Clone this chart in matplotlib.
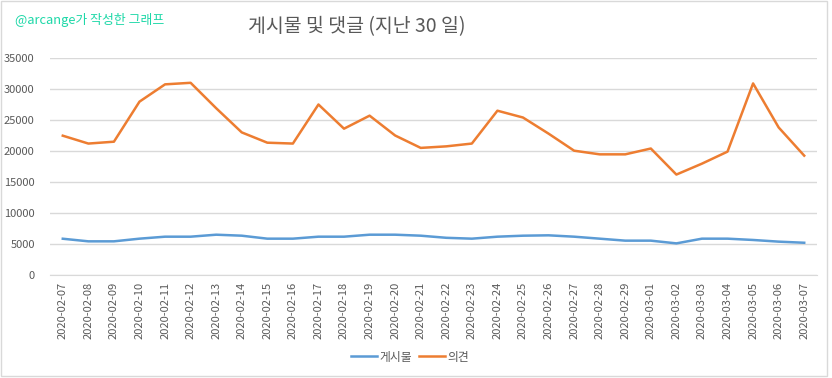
import matplotlib.pyplot as plt
import matplotlib.patches as mpatches

plt.rcParams['font.family'] = ['Noto Sans CJK KR', 'DejaVu Sans']

dates = ['2020-02-07', '2020-02-08', '2020-02-09', '2020-02-10', '2020-02-11',
         '2020-02-12', '2020-02-13', '2020-02-14', '2020-02-15', '2020-02-16',
         '2020-02-17', '2020-02-18', '2020-02-19', '2020-02-20', '2020-02-21',
         '2020-02-22', '2020-02-23', '2020-02-24', '2020-02-25', '2020-02-26',
         '2020-02-27', '2020-02-28', '2020-02-29', '2020-03-01', '2020-03-02',
         '2020-03-03', '2020-03-04', '2020-03-05', '2020-03-06', '2020-03-07']
posts = [5850, 5430, 5430, 5860, 6180, 6180, 6500, 6340, 5860, 5860,
         6180, 6180, 6500, 6500, 6340, 6000, 5860, 6180, 6340, 6400,
         6180, 5860, 5540, 5540, 5100, 5860, 5860, 5650, 5380, 5200]
comments = [22470, 21200, 21500, 27960, 30750, 31000, 26900, 23000, 21340, 21200,
            27500, 23600, 25700, 22500, 20500, 20750, 21200, 26500, 25400, 22800,
            20050, 19460, 19460, 20400, 16200, 17960, 19900, 30900, 23800, 19250]
yticks = [0, 5000, 10000, 15000, 20000, 25000, 30000, 35000]

W, H = 832, 378
fig = plt.figure(figsize=(W / 100, H / 100), dpi=100)

# chart border
fig.patches.append(mpatches.Rectangle((0.5 / W, 1 - 375.5 / H), 826.5 / W, 375 / H,
                                      transform=fig.transFigure, fill=False,
                                      edgecolor='#d9d9d9', linewidth=1))

ax = fig.add_axes([50 / W, 1 - 275 / H, (817 - 50) / W, (275 - 58) / H])
x = range(len(dates))
ax.plot(x, posts, color='#5b9bd5', linewidth=1.8, label='게시물')
ax.plot(x, comments, color='#ed7d31', linewidth=1.8, label='의견')

ax.set_xlim(-0.5, len(dates) - 0.5)
ax.set_ylim(0, 35000)
ax.set_yticks(yticks)
ax.set_yticklabels([str(v) for v in yticks])
ax.set_xticks(list(x))
ax.set_xticklabels(dates, rotation=90)
ax.grid(axis='y', color='#d9d9d9', linewidth=1)
ax.set_axisbelow(True)
for s in ['top', 'right', 'left']:
    ax.spines[s].set_visible(False)
ax.spines['bottom'].set_color('#d9d9d9')
ax.tick_params(axis='both', length=0, colors='#595959', labelsize=8)
ax.tick_params(axis='y', pad=11)
ax.tick_params(axis='x', pad=5)

fig.text(357 / W, 1 - 27 / H, '게시물 및 댓글 (지난 30 일)', ha='center', va='center',
         fontsize=14, color='#595959')
fig.text(15 / W, 1 - 20 / H, '@arcange가 작성한 그래프', ha='left', va='center',
         fontsize=9.3, color='#1ed8a8')

fig.legend(loc='center', bbox_to_anchor=(410 / W, 1 - 357 / H), ncol=2, frameon=False,
           fontsize=8.5, labelcolor='#595959', handlelength=2.2, handletextpad=0.2,
           columnspacing=0.6)

fig.savefig('out.png', dpi=100)
